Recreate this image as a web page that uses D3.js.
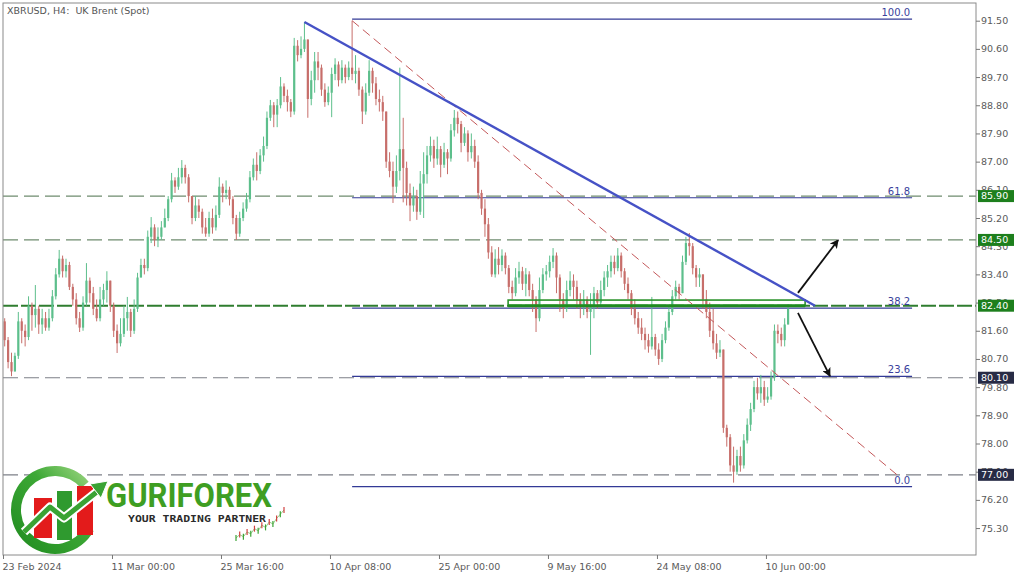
<!DOCTYPE html>
<html><head><meta charset="utf-8">
<script src="https://cdn.jsdelivr.net/npm/d3@7"></script>
<style>html,body{margin:0;padding:0;background:#fff;} svg{display:block;}</style>
</head><body>
<svg id="c" width="1024" height="576"></svg>
<script>
// ---------------- DATA ----------------
const firstOpen = 81.9;
const closes = [
81.3,80.6,80.3,80.8,81.9,81.6,81.4,82.4,82.1,82.3,
81.8,82.0,81.7,82.0,82.7,83.4,83.9,83.5,83.7,83.0,
82.6,82.0,81.7,82.5,83.2,82.8,82.3,82.0,82.6,82.9,
83.2,82.4,81.6,81.2,81.5,82.0,82.2,81.6,82.3,83.3,
83.7,83.6,84.6,84.9,84.5,84.6,84.9,85.2,85.8,86.4,
86.2,86.5,86.8,86.5,85.9,85.2,85.6,85.4,84.9,84.7,
85.2,84.9,85.3,86.2,86.0,86.1,85.8,85.2,84.7,85.2,
85.5,85.8,86.5,86.9,86.7,87.2,87.5,88.4,88.8,88.5,
88.8,89.4,89.1,88.9,88.6,90.7,90.4,90.6,90.9,89.0,
89.6,90.2,90.0,89.3,88.9,89.2,89.8,90.1,89.6,90.0,
89.7,90.0,89.8,89.9,89.3,88.6,89.2,89.9,89.5,89.0,
88.9,88.6,87.0,86.7,86.2,86.7,87.4,86.8,86.0,85.6,
85.9,85.4,86.3,86.6,87.2,87.5,87.1,87.4,86.9,87.3,
87.1,88.0,88.4,88.2,87.6,87.9,87.3,87.5,87.0,86.0,
85.5,85.0,84.1,83.4,83.9,83.7,84.0,83.6,83.0,82.8,
83.3,83.5,83.1,83.4,82.9,82.6,82.0,82.9,83.4,83.5,
83.8,84.0,83.3,82.6,82.3,82.9,83.2,83.0,82.6,82.4,
82.6,82.2,82.4,82.8,82.5,82.9,83.3,83.5,83.8,83.6,
84.0,83.5,83.1,82.8,82.3,82.0,81.7,81.5,81.3,81.1,
81.4,81.0,80.7,81.3,81.7,82.2,82.7,83.0,82.8,83.8,
84.4,84.3,83.6,83.3,83.4,82.6,82.2,81.6,81.2,80.9,
81.0,78.5,78.2,77.3,77.1,77.6,77.3,78.1,78.6,79.1,
79.8,79.6,79.8,79.4,79.5,80.1,81.6,81.5,81.3,81.8,
82.3];
const highs = [
82.0,81.4,80.9,80.9,82.2,82.0,81.8,82.7,82.5,83.06,
82.4,82.3,82.2,82.3,82.9,83.6,84.18,84.0,83.9,83.8,
83.1,82.8,82.2,82.7,83.76,83.3,83.0,82.6,83.0,83.1,
83.5,83.2,82.5,81.8,82.0,82.4,82.68,82.3,82.6,83.45,
83.9,83.9,84.8,85.23,85.0,84.9,85.1,85.5,85.9,86.64,
86.5,86.8,87.05,86.9,86.6,85.9,85.9,85.8,85.5,85.2,
85.4,85.5,85.6,86.5,86.3,86.4,86.2,85.9,85.3,85.4,
85.7,86.0,86.7,87.1,87.3,87.4,87.8,88.6,88.97,88.9,
89.0,89.7,89.5,89.3,89.0,90.95,90.88,91.0,91.46,90.9,
89.9,90.5,90.5,90.1,89.5,89.4,90.0,90.3,90.2,90.24,
90.1,90.2,91.5,90.4,90.0,89.4,89.5,90.24,90.0,89.7,
89.3,89.1,88.6,87.3,87.0,87.2,90.0,88.4,87.0,86.3,
86.2,86.1,86.7,87.3,87.5,87.8,87.7,87.8,87.5,87.6,
87.4,88.2,88.65,88.6,88.3,88.1,88.0,87.9,87.7,87.2,
86.1,85.8,85.2,84.3,84.2,84.27,84.2,84.1,83.7,83.2,
83.6,83.8,83.64,83.6,83.5,83.1,82.7,83.3,83.6,83.7,
84.0,84.24,84.1,83.4,82.8,83.2,83.5,83.4,83.2,82.8,
82.9,82.7,82.8,83.0,82.9,83.2,83.5,83.7,84.0,84.0,
84.24,84.1,83.6,83.3,82.9,82.6,82.2,82.0,81.7,81.5,
82.68,81.5,81.2,81.5,81.9,82.4,82.9,83.2,83.1,84.0,
84.6,84.72,84.4,83.7,83.6,83.4,82.9,82.5,82.3,81.5,
81.3,80.9,78.6,78.3,77.9,77.8,77.9,78.3,78.8,79.3,
80.0,80.1,80.19,80.0,79.8,80.3,81.8,81.8,81.7,82.0,
82.45];
const lows = [
81.1,80.4,80.15,80.3,80.7,81.2,81.1,81.3,81.6,81.7,
81.5,81.5,81.6,81.6,81.9,82.6,83.3,83.3,83.3,82.9,
82.4,81.8,81.56,81.6,82.4,82.5,82.1,81.9,81.9,82.4,
82.5,82.2,81.4,80.89,81.1,81.4,81.6,81.4,81.5,82.2,
83.3,83.4,83.5,84.4,84.3,84.27,84.5,84.9,85.1,85.7,
86.0,86.1,86.3,86.3,85.7,85.0,85.1,85.2,84.7,84.6,
84.6,84.7,84.8,85.2,85.7,85.8,85.6,85.0,84.5,84.6,
85.1,85.4,85.7,86.4,86.4,86.6,87.0,87.4,88.3,88.1,
88.1,88.7,88.9,88.6,88.42,88.5,90.2,90.3,90.5,88.4,
88.8,89.2,89.6,89.1,88.75,88.8,88.42,89.6,89.4,89.5,
89.5,89.6,89.6,89.5,89.1,88.2,88.5,89.1,89.2,88.8,
88.6,88.3,86.8,86.5,85.68,86.0,86.4,85.7,85.6,85.1,
85.4,85.14,85.3,85.2,86.3,87.0,86.8,86.9,86.5,86.8,
86.6,87.0,87.8,87.9,87.3,87.5,87.0,87.1,86.8,85.8,
85.3,84.6,83.9,83.32,83.3,83.4,83.5,83.4,82.8,82.6,
82.7,83.1,82.9,82.7,82.7,82.2,81.56,81.9,82.8,83.2,
83.3,83.6,82.8,82.2,82.0,82.2,82.7,82.6,82.3,82.0,
82.1,82.0,80.83,82.0,82.3,82.4,82.7,83.0,83.3,83.4,
83.5,83.3,82.9,82.6,82.1,81.8,81.5,81.3,81.0,80.9,
81.0,80.8,80.51,80.6,81.2,81.6,82.1,82.6,82.6,82.8,
83.7,84.0,83.4,83.0,83.0,82.3,82.0,81.4,81.0,80.7,
80.76,78.34,77.9,77.1,76.75,77.0,77.1,77.2,78.0,78.4,
79.0,79.4,79.3,79.2,79.3,79.4,80.0,81.2,81.1,81.1,
81.8];

const timeTickIndex = [0, 32, 64, 96, 128, 160, 192, 224];
const timeTickLabels = ["23 Feb 2024","11 Mar 00:00","25 Mar 16:00","10 Apr 08:00","25 Apr 00:00","9 May 16:00","24 May 08:00","10 Jun 00:00"];
const priceTicks = [75.30,76.20,77.10,78.00,78.90,79.80,80.70,81.60,82.50,83.40,84.30,85.20,86.10,87.00,87.90,88.80,89.70,90.60,91.50];

const levelPrices = [85.90, 84.50, 82.40, 80.10, 77.00];
const levelKinds  = ["res", "res", "key", "sup", "sup"];

const fibRatios = [0, 23.6, 38.2, 61.8, 100];
const fibPriceRange = [76.62, 91.55];
const fibIndexRange = [102.5, 266.9];

const trendLine = [[88.5, 91.46], [238.4, 82.40]];
const channelLine = [[102.5, 91.5], [262.5, 77.0]];
const zoneIndex = [148.3, 235.5];
const zonePrice = [82.40, 82.58];
const arrowUp = [[233.4, 82.81], [245.2, 84.50]];
const arrowDown = [[233.4, 82.17], [242.8, 80.15]];

const sparkVals = [0.0, 0.8, 0.3, 1.4, 1.0, 2.2, 1.7, 3.0, 2.5, 3.8, 3.3, 4.6, 5.6, 6.6];

const title = "XBRUSD, H4:\u00a0 UK Brent (Spot)";

// ---------------- CHART ----------------
const W = 1024, H = 576;
const P = {l: 3, t: 3, r: 976, b: 555};
const x = d3.scaleLinear().domain([0, 285.67]).range([P.l, P.r]);
const y = d3.scaleLinear().domain([74.44, 92.065]).range([P.b, P.t]);
const FONT = "DejaVu Sans, Verdana, sans-serif";
const UP = "#5dbf8c", DOWN = "#c76e6a";

const svg = d3.select("#c");
svg.append("rect").attr("width", W).attr("height", H).attr("fill", "#fff");

const defs = svg.append("defs");
defs.append("clipPath").attr("id", "pc").append("rect")
  .attr("x", P.l).attr("y", P.t).attr("width", P.r - P.l).attr("height", P.b - P.t);
defs.append("marker").attr("id", "ah").attr("viewBox", "0 0 10 10")
  .attr("refX", 9).attr("refY", 5).attr("markerWidth", 9).attr("markerHeight", 9)
  .attr("markerUnits", "userSpaceOnUse").attr("orient", "auto")
  .append("path").attr("d", "M0,0 L10,5 L0,10 L2.5,5 z").attr("fill", "#111");
const grad = defs.append("linearGradient").attr("id", "lg").attr("x1", "0").attr("y1", "1").attr("x2", "1").attr("y2", "0");
grad.append("stop").attr("offset", "0").attr("stop-color", "#1e8a1e");
grad.append("stop").attr("offset", "0.6").attr("stop-color", "#3da836");
grad.append("stop").attr("offset", "1").attr("stop-color", "#a8dc8a");

const g = svg.append("g").attr("clip-path", "url(#pc)");

// fib lines
const fibLevels = fibRatios.map(r => ({r, p: fibPriceRange[0] + (fibPriceRange[1] - fibPriceRange[0]) * r / 100}));
g.selectAll("line.fib").data(fibLevels).join("line")
  .attr("x1", x(fibIndexRange[0])).attr("x2", x(fibIndexRange[1]))
  .attr("y1", d => y(d.p)).attr("y2", d => y(d.p))
  .attr("stroke", "#333a96").attr("stroke-width", 1.2);

// horizontal dashed levels
const levelStroke = {res: "#6f8c6f", key: "#2f7d2f", sup: "#7d8088"};
g.selectAll("line.lvl").data(levelPrices).join("line")
  .attr("x1", P.l).attr("x2", P.r)
  .attr("y1", d => y(d)).attr("y2", d => y(d))
  .attr("stroke", (d, i) => levelStroke[levelKinds[i]])
  .attr("stroke-width", (d, i) => levelKinds[i] === "key" ? 2 : 1.2)
  .attr("stroke-dasharray", (d, i) => levelKinds[i] === "key" ? "15,3" : "15,6");

// candles
const candles = closes.map((c, i) => ({i, o: i === 0 ? firstOpen : closes[i - 1], c, h: highs[i], l: lows[i]}));
g.selectAll("line.wick").data(candles).join("line")
  .attr("x1", d => x(d.i + 0.5)).attr("x2", d => x(d.i + 0.5))
  .attr("y1", d => y(Math.max(d.h, d.o, d.c))).attr("y2", d => y(Math.min(d.l, d.o, d.c)))
  .attr("stroke", d => d.c >= d.o ? UP : DOWN).attr("stroke-width", 1);
g.selectAll("rect.body").data(candles).join("rect")
  .attr("x", d => x(d.i + 0.5) - 1.1).attr("width", 2.2)
  .attr("y", d => y(Math.max(d.o, d.c)))
  .attr("height", d => Math.max(1, Math.abs(y(d.o) - y(d.c))))
  .attr("fill", d => d.c >= d.o ? UP : DOWN);

// zone rectangle
g.append("rect")
  .attr("x", x(zoneIndex[0])).attr("width", x(zoneIndex[1]) - x(zoneIndex[0]))
  .attr("y", y(zonePrice[1])).attr("height", y(zonePrice[0]) - y(zonePrice[1]))
  .attr("fill", "none").attr("stroke", "#2a922a").attr("stroke-width", 1.6);
g.append("line")
  .attr("x1", x(zoneIndex[0])).attr("x2", x(zoneIndex[1]))
  .attr("y1", y(zonePrice[0])).attr("y2", y(zonePrice[0]))
  .attr("stroke", "#1f8c1f").attr("stroke-width", 3);

// red dashed diagonal
g.append("line")
  .attr("x1", x(channelLine[0][0])).attr("y1", y(channelLine[0][1]))
  .attr("x2", x(channelLine[1][0])).attr("y2", y(channelLine[1][1]))
  .attr("stroke", "#c4585a").attr("stroke-width", 1).attr("stroke-dasharray", "9,5");

// blue trendline
g.append("line")
  .attr("x1", x(trendLine[0][0])).attr("y1", y(trendLine[0][1]))
  .attr("x2", x(trendLine[1][0])).attr("y2", y(trendLine[1][1]))
  .attr("stroke", "#4652c6").attr("stroke-width", 2.4);

// arrows
[arrowUp, arrowDown].forEach(a => {
  g.append("line")
    .attr("x1", x(a[0][0])).attr("y1", y(a[0][1]))
    .attr("x2", x(a[1][0])).attr("y2", y(a[1][1]))
    .attr("stroke", "#111").attr("stroke-width", 1.8).attr("marker-end", "url(#ah)");
});

// fib labels
g.selectAll("text.fib").data(fibLevels).join("text")
  .attr("x", x(fibIndexRange[1]) - 2).attr("y", d => y(d.p) - 3)
  .attr("text-anchor", "end").attr("font-family", FONT).attr("font-size", 10)
  .attr("fill", "#3a3f9c").text(d => d.r.toFixed(1));

// title
svg.append("text").attr("x", 7).attr("y", 14).attr("font-family", FONT).attr("font-size", 9.5)
  .attr("fill", "#555").text(title);

// ---- logo ----
const logo = svg.append("g");
const cx = 55, cy = 510;
logo.append("path")
  .attr("transform", `translate(${cx},${cy})`)
  .attr("d", d3.arc().innerRadius(34).outerRadius(44).startAngle(Math.PI / 2 + 0.5).endAngle(Math.PI * 2.5 - 0.7)())
  .attr("fill", "url(#lg)");
logo.append("rect").attr("x", 34).attr("y", 498).attr("width", 18).attr("height", 40).attr("fill", "#e31b1b");
logo.append("rect").attr("x", 57).attr("y", 491).attr("width", 15).attr("height", 49).attr("fill", "#2f9a2f");
logo.append("rect").attr("x", 77).attr("y", 486).attr("width", 16).attr("height", 49).attr("fill", "#e31b1b");
const arrowPts = [[24, 532], [50, 507], [64, 518], [98, 491]];
logo.append("path").attr("d", d3.line()(arrowPts)).attr("fill", "none")
  .attr("stroke", "#fff").attr("stroke-width", 9).attr("stroke-linejoin", "round");
logo.append("path").attr("d", d3.line()(arrowPts)).attr("fill", "none")
  .attr("stroke", "#3aa334").attr("stroke-width", 5).attr("stroke-linejoin", "round");
logo.append("path").attr("d", "M90,484 L108,481 L101,498 Z").attr("fill", "#3aa334").attr("stroke", "#fff").attr("stroke-width", 1);
logo.append("text").attr("x", 106).attr("y", 507)
  .attr("font-family", "Roboto, 'DejaVu Sans', sans-serif").attr("font-weight", "bold").attr("font-size", 33)
  .attr("fill", "#3e9e22").attr("textLength", 166).attr("lengthAdjust", "spacingAndGlyphs").text("GURIFOREX");
logo.append("text").attr("x", 128).attr("y", 522)
  .attr("font-family", "'DejaVu Sans Mono', monospace").attr("font-weight", "bold").attr("font-size", 9.5)
  .attr("fill", "#2b2b2b").attr("textLength", 138).attr("lengthAdjust", "spacingAndGlyphs").text("YOUR TRADING PARTNER");
const sx = d3.scaleLinear().domain([0, sparkVals.length - 1]).range([236, 284]);
const sy = d3.scaleLinear().domain([0, 6.6]).range([538, 510]);
logo.append("path").attr("d", d3.line().x((d, i) => sx(i)).y(d => sy(d))(sparkVals))
  .attr("fill", "none").attr("stroke", "#7bbf6a").attr("stroke-width", 0.8);
logo.selectAll("line.sp").data(sparkVals).join("line")
  .attr("x1", (d, i) => sx(i)).attr("x2", (d, i) => sx(i))
  .attr("y1", d => sy(d) - 3).attr("y2", d => sy(d) + 3)
  .attr("stroke", (d, i) => i % 2 ? "#d04040" : "#3aa334").attr("stroke-width", 1.2);

// border
svg.append("rect").attr("x", P.l).attr("y", P.t).attr("width", P.r - P.l).attr("height", P.b - P.t)
  .attr("fill", "none").attr("stroke", "#8a8a8a").attr("stroke-width", 1);

// y axis
const ya = svg.append("g").attr("transform", `translate(${P.r},0)`)
  .call(d3.axisRight(y).tickValues(priceTicks).tickSize(4).tickPadding(1).tickFormat(d3.format(".2f")));
ya.select(".domain").remove();
ya.selectAll("line").attr("stroke", "#777");
ya.selectAll("text").attr("font-family", FONT).attr("font-size", 9.5).attr("fill", "#5a5a5a");

// x axis
const xa = svg.append("g").attr("transform", `translate(0,${P.b})`)
  .call(d3.axisBottom(x).tickValues(timeTickIndex).tickSize(4).tickFormat((d, i) => timeTickLabels[i]));
xa.select(".domain").remove();
xa.selectAll("line").attr("stroke", "#777");
xa.selectAll("text").attr("text-anchor", "start").attr("dx", -1).attr("dy", "0.85em")
  .attr("font-family", FONT).attr("font-size", 9.5).attr("fill", "#5a5a5a");

// level boxes
const boxFill = {res: "#1d7f1d", key: "#1d7f1d", sup: "#272b45"};
const bx = svg.selectAll("g.box").data(levelPrices).join("g")
  .attr("transform", d => `translate(${P.r + 2},${y(d)})`);
bx.append("rect").attr("x", 0).attr("y", -6).attr("width", 36).attr("height", 12)
  .attr("fill", (d, i) => boxFill[levelKinds[i]]);
bx.append("text").attr("x", 3).attr("y", 0).attr("dy", "0.34em")
  .attr("font-family", FONT).attr("font-size", 9.5).attr("fill", "#fff").text(d => d.toFixed(2));
</script>
</body></html>
